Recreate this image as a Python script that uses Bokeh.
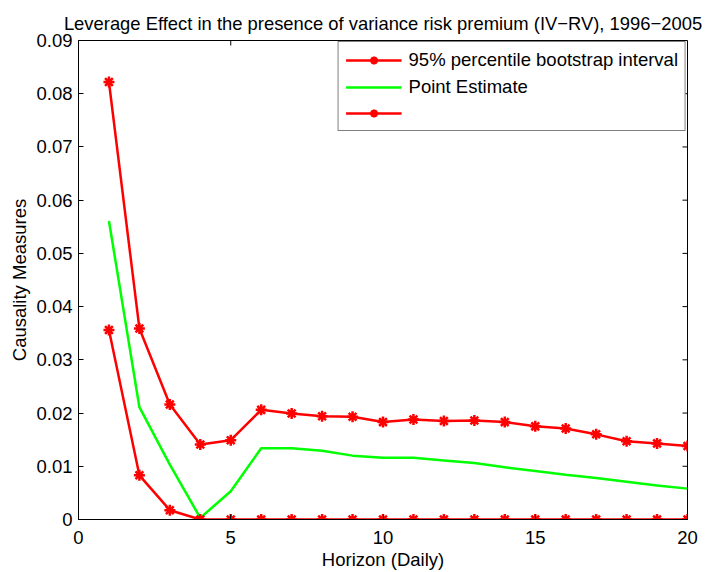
import math
from bokeh.plotting import figure
from bokeh.models import Range1d, Legend, LegendItem, FixedTicker
from bokeh.embed import file_html
from bokeh.resources import INLINE

horizon = list(range(1, 21))
upper = [0.0822, 0.0359, 0.0216, 0.0141, 0.0149, 0.0206, 0.0199, 0.0194, 0.0193, 0.0183,
         0.0188, 0.0185, 0.0186, 0.0183, 0.0175, 0.0171, 0.0160, 0.0147, 0.0143, 0.0138]
point = [0.0561, 0.0211, 0.0103, 0.0003, 0.0053, 0.0134, 0.0134, 0.0129, 0.0120, 0.0116,
         0.0116, 0.0111, 0.0106, 0.0098, 0.0091, 0.0084, 0.0078, 0.0071, 0.0064, 0.0058]
lower = [0.0356, 0.0083, 0.00175, 0.0, 0.0, 0.0, 0.0, 0.0, 0.0, 0.0,
         0.0, 0.0, 0.0, 0.0, 0.0, 0.0, 0.0, 0.0, 0.0, 0.0]
x_ticks = [0, 5, 10, 15, 20]
y_ticks = [0, 0.01, 0.02, 0.03, 0.04, 0.05, 0.06, 0.07, 0.08, 0.09]

FONT = "Liberation Sans"
FS = "18.5px"

p = figure(width=711, height=572, output_backend="svg", toolbar_location=None,
           x_range=Range1d(x_ticks[0], x_ticks[-1]), y_range=Range1d(y_ticks[0], y_ticks[-1]),
           title="Leverage Effect in the presence of variance risk premium (IV\u2212RV), 1996\u22122005",
           min_border_left=78, min_border_right=24, min_border_top=40, min_border_bottom=53)
p.title.text_font = FONT
p.title.text_font_size = "18.4px"
p.title.text_font_style = "normal"
p.title.text_color = "black"
p.title.align = "center"
p.title.standoff = 14
p.xgrid.grid_line_color = None
p.ygrid.grid_line_color = None
p.outline_line_color = "black"
p.outline_line_width = 1
p.background_fill_color = "white"
p.border_fill_color = "white"

def style_axis(ax, ticks):
    ax.ticker = FixedTicker(ticks=ticks)
    ax.major_tick_in = 5
    ax.major_tick_out = 0
    ax.minor_tick_line_color = None
    ax.axis_line_color = "black"
    ax.major_tick_line_color = "black"
    ax.major_label_text_font = FONT
    ax.major_label_text_font_size = FS
    ax.major_label_text_color = "black"
    ax.axis_label_text_font = FONT
    ax.axis_label_text_font_size = FS
    ax.axis_label_text_font_style = "normal"
    ax.axis_label_text_color = "black"

style_axis(p.xaxis[0], x_ticks)
style_axis(p.yaxis[0], y_ticks)
p.xaxis[0].axis_label = "Horizon (Daily)"
p.yaxis[0].axis_label = "Causality Measures"
p.xaxis[0].major_label_standoff = 11
p.xaxis[0].axis_label_standoff = 2
p.yaxis[0].major_label_standoff = 6
p.yaxis[0].axis_label_standoff = 3

# inward ticks on the top and right edges of the box (MATLAB style)
p.ray(x=x_ticks, y=[y_ticks[-1]] * len(x_ticks), length=5, length_units="screen",
      angle=-math.pi / 2, line_color="black", line_width=1)
p.ray(x=[x_ticks[-1]] * len(y_ticks), y=y_ticks, length=5, length_units="screen",
      angle=math.pi, line_color="black", line_width=1)

RED = "#ff0000"
GREEN = "#00ff00"

l_up = p.line(horizon, upper, line_color=RED, line_width=2.5)
m_up = p.scatter(horizon, upper, marker="asterisk", size=11, line_color=RED, line_width=2.5)
l_pt = p.line(horizon, point, line_color=GREEN, line_width=2.5)
l_lo = p.line(horizon, lower, line_color=RED, line_width=2.5)
m_lo = p.scatter(horizon, lower, marker="asterisk", size=11, line_color=RED, line_width=2.5)

legend = Legend(items=[
    LegendItem(label="95% percentile bootstrap interval", renderers=[l_up, m_up]),
    LegendItem(label="Point Estimate", renderers=[l_pt]),
    LegendItem(label=" ", renderers=[l_lo, m_lo]),
], location="top_right")
legend.label_text_font = FONT
legend.label_text_font_size = FS
legend.label_text_color = "black"
legend.border_line_color = "black"
legend.border_line_width = 1
legend.padding = 7
legend.spacing = 5
legend.margin = 1
legend.glyph_width = 56
legend.glyph_height = 20
legend.label_height = 20
legend.label_standoff = 7
legend.background_fill_color = "white"
legend.background_fill_alpha = 1
p.add_layout(legend)

open("out.html", "w").write(file_html(p, INLINE))
